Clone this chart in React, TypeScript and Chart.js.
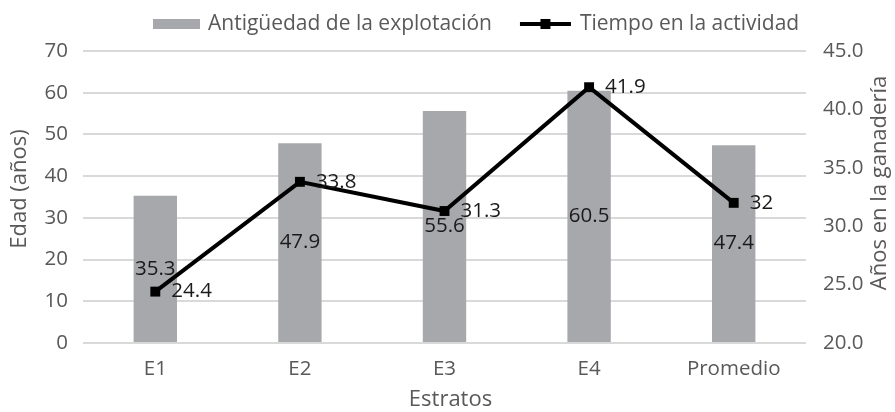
import React, { useEffect, useRef } from 'react';
import { Chart, registerables } from 'chart.js';

Chart.register(...registerables);

const categories = ['E1', 'E2', 'E3', 'E4', 'Promedio'];
const antiguedad = [35.3, 47.9, 55.6, 60.5, 47.4];
const tiempo = [24.4, 33.8, 31.3, 41.9, 32];
const seriesNames = ['Antigüedad de la explotación', 'Tiempo en la actividad'];
const leftTitle = 'Edad (años)';
const rightTitle = 'Años en la ganadería';
const xTitle = 'Estratos';

const FONT = '"Open Sans", "Noto Sans", sans-serif';
const BAR = '#A7A8AB';
const TEXT = '#595959';
const GRID = '#D9D9D9';

const labelsPlugin = {
  id: 'valueLabels',
  afterDatasetsDraw(chart: any) {
    const ctx = chart.ctx;
    ctx.save();
    ctx.font = `20.5px ${FONT}`;
    ctx.fillStyle = '#1a1a1a';
    ctx.textBaseline = 'middle';
    chart.data.datasets.forEach((ds: any, i: number) => {
      const meta = chart.getDatasetMeta(i);
      meta.data.forEach((el: any, j: number) => {
        const v = ds.data[j];
        if (ds.type === 'bar') {
          ctx.textAlign = 'center';
          ctx.fillText(String(v), el.x, (el.y + el.base) / 2);
        } else {
          ctx.textAlign = 'left';
          ctx.fillText(String(v), el.x + 16, el.y);
        }
      });
    });
    ctx.restore();
  },
};

const decorPlugin = {
  id: 'decor',
  afterDraw(chart: any) {
    const ctx = chart.ctx;
    const area = chart.chartArea;
    ctx.save();
    // legend
    ctx.font = `21px ${FONT}`;
    ctx.textBaseline = 'middle';
    ctx.textAlign = 'left';
    const y = 24;
    let x = 153;
    ctx.fillStyle = BAR;
    ctx.fillRect(x, y - 5, 47, 10);
    x += 55;
    ctx.fillStyle = TEXT;
    ctx.fillText(seriesNames[0], x, y);
    x += ctx.measureText(seriesNames[0]).width + 28;
    ctx.strokeStyle = '#000';
    ctx.lineWidth = 4;
    ctx.beginPath();
    ctx.moveTo(x, y);
    ctx.lineTo(x + 51, y);
    ctx.stroke();
    ctx.fillStyle = '#000';
    ctx.fillRect(x + 25.5 - 5, y - 5, 10, 10);
    x += 60;
    ctx.fillStyle = TEXT;
    ctx.fillText(seriesNames[1], x, y);

    // axis titles
    ctx.font = `22px ${FONT}`;
    ctx.fillStyle = TEXT;
    ctx.textAlign = 'center';
    ctx.textBaseline = 'middle';
    ctx.fillText(xTitle, (area.left + area.right) / 2 + 6, 400);

    ctx.save();
    ctx.translate(20, (area.top + area.bottom) / 2 - 8);
    ctx.rotate(-Math.PI / 2);
    ctx.fillText(leftTitle, 0, 0);
    ctx.restore();

    ctx.save();
    ctx.translate(880, (area.top + area.bottom) / 2 - 14);
    ctx.rotate(-Math.PI / 2);
    ctx.fillText(rightTitle, 0, 0);
    ctx.restore();

    ctx.restore();
  },
};

export default function App() {
  const ref = useRef<HTMLCanvasElement>(null);
  useEffect(() => {
    if (!ref.current) return;
    const tickFont = { family: FONT, size: 20.5 };
    const chart = new Chart(ref.current, {
      type: 'bar',
      data: {
        labels: categories,
        datasets: [
          {
            type: 'line',
            label: seriesNames[1],
            data: tiempo,
            yAxisID: 'y1',
            borderColor: '#000',
            backgroundColor: '#000',
            borderWidth: 4,
            pointStyle: 'rect',
            pointRadius: 7,
            pointBorderWidth: 0,
            tension: 0,
            order: 0,
          } as any,
          {
            type: 'bar',
            label: seriesNames[0],
            data: antiguedad,
            yAxisID: 'y',
            backgroundColor: BAR,
            categoryPercentage: 0.3,
            barPercentage: 1,
            order: 1,
          } as any,
        ],
      },
      options: {
        animation: false,
        responsive: false,
        layout: { padding: { top: 51, left: 0, right: 0, bottom: 0 } },
        plugins: { legend: { display: false }, tooltip: { enabled: false } },
        scales: {
          x: {
            grid: { display: false },
            border: { display: false },
            ticks: { color: TEXT, font: tickFont, padding: 6 },
            afterFit: (s: any) => { s.height = 69; s.paddingLeft = 0; s.paddingRight = 0; },
          },
          y: {
            position: 'left',
            min: 0,
            max: 70,
            ticks: { stepSize: 10, color: TEXT, font: tickFont, padding: 15 },
            grid: { color: GRID, lineWidth: 2, drawTicks: false },
            border: { display: false },
            afterFit: (s: any) => { s.width = 83; s.paddingTop = 0; s.paddingBottom = 0; },
          },
          y1: {
            position: 'right',
            min: 20,
            max: 45,
            ticks: { stepSize: 5, color: TEXT, font: tickFont, padding: 17, callback: (v: any) => Number(v).toFixed(1) },
            grid: { display: false, drawTicks: false },
            border: { display: false },
            afterFit: (s: any) => { s.width = 89; s.paddingTop = 0; s.paddingBottom = 0; },
          },
        },
      } as any,
      plugins: [labelsPlugin, decorPlugin],
    });
    return () => chart.destroy();
  }, []);
  return (
    <div style={{ position: 'fixed', left: 0, top: 0, width: 895, height: 412, background: '#fff' }}>
      <canvas ref={ref} width={895} height={412} />
    </div>
  );
}
